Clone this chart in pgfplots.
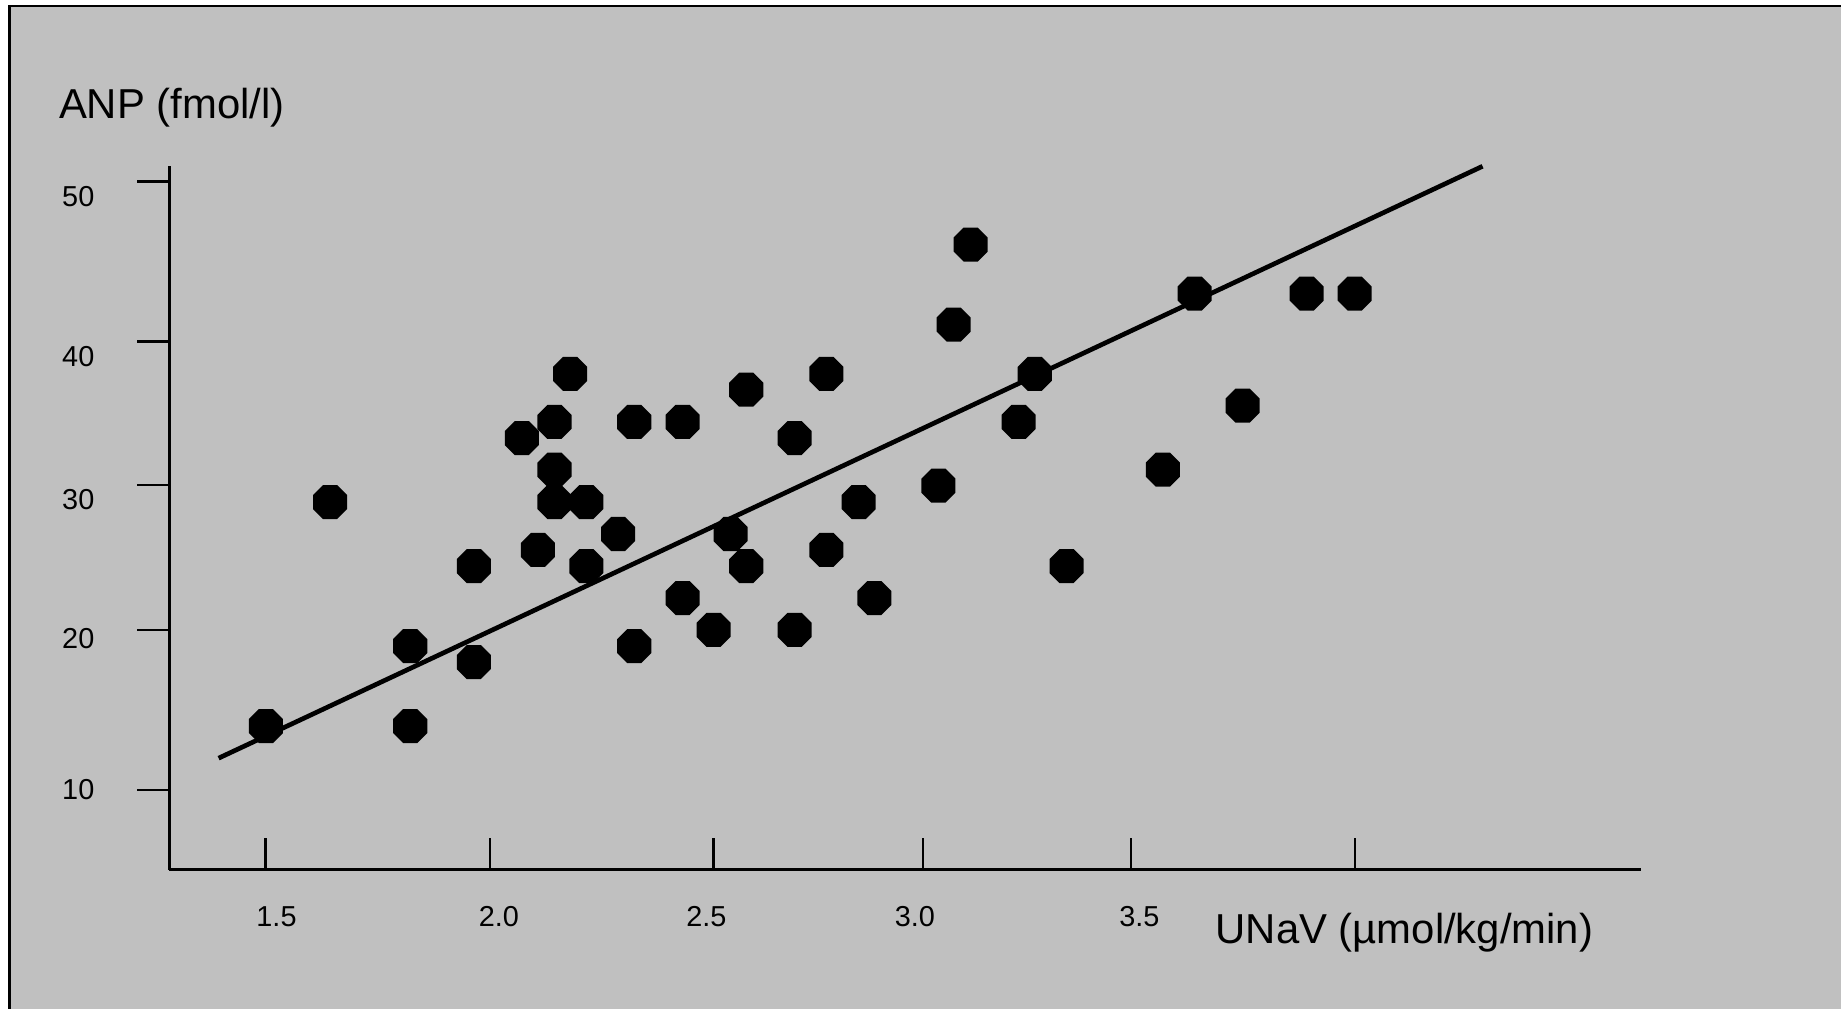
\documentclass[border=0pt]{standalone}
\usepackage{fontspec}
\setmainfont{Liberation Sans}
\usepackage{pgfplots}
\pgfplotsset{compat=1.18}
\definecolor{panel}{HTML}{C0C0C0}

% filled octagon, flat sides top/bottom/left/right
\pgfdeclareplotmark{octagon}{%
  \pgfpathmoveto{\pgfpointpolar{22.5}{\pgfplotmarksize}}%
  \pgfpathlineto{\pgfpointpolar{67.5}{\pgfplotmarksize}}%
  \pgfpathlineto{\pgfpointpolar{112.5}{\pgfplotmarksize}}%
  \pgfpathlineto{\pgfpointpolar{157.5}{\pgfplotmarksize}}%
  \pgfpathlineto{\pgfpointpolar{202.5}{\pgfplotmarksize}}%
  \pgfpathlineto{\pgfpointpolar{247.5}{\pgfplotmarksize}}%
  \pgfpathlineto{\pgfpointpolar{292.5}{\pgfplotmarksize}}%
  \pgfpathlineto{\pgfpointpolar{337.5}{\pgfplotmarksize}}%
  \pgfpathclose
  \pgfusepathqfill
}

\begin{document}
\begin{tikzpicture}[x=0.01cm, y=0.01cm]
\useasboundingbox (0,0) rectangle (1841,1009);
\fill[white] (0,0) rectangle (1841,1009);
\fill[panel] (9.7,0) rectangle (1841,1003);
\draw[line width=0.72pt] (9.7,0) -- (9.7,1003) -- (1841,1003);

\begin{axis}[
  at={(1.693cm,1.39cm)}, anchor=south west,
  x=4.3556cm, y=0.152cm,
  xmin=1.2794, xmax=4.656, ymin=4.763, ymax=51.08,
  axis x line*=bottom, axis y line*=left,
  axis line style={line width=0.85pt, black},
  xtick={1.5,2.0145,2.5279,3.0091,3.486,4.0},
  ytick={10.03,20.55,30.07,39.51,50.03},
  xticklabels={}, yticklabels={},
  xtick align=inside, ytick align=outside,
  major tick length=0.32cm,
  every tick/.style={black, line width=0.65pt},
  clip=false,
]
\addplot[only marks, mark=octagon, mark size=5.24pt, black] coordinates {
  (1.501,14.22) (1.648,28.95) (1.832,19.48) (1.832,14.22)
  (1.978,24.74) (1.978,18.43) (2.088,33.16) (2.125,25.80)
  (2.163,34.22) (2.163,31.08) (2.163,28.95) (2.199,37.38)
  (2.236,28.95) (2.236,24.74) (2.309,26.85) (2.346,34.22)
  (2.346,19.48) (2.457,34.22) (2.457,22.64) (2.528,20.55)
  (2.567,26.85) (2.603,36.34) (2.603,24.74) (2.714,33.16)
  (2.714,20.55) (2.787,37.38) (2.787,25.80) (2.861,28.95)
  (2.897,22.64) (3.044,30.03) (3.079,40.62) (3.118,45.88)
  (3.228,34.22) (3.265,37.38) (3.338,24.74) (3.559,31.08)
  (3.632,42.66) (3.742,35.29) (3.889,42.66) (3.999,42.66)
};
\addplot[no markers, black, line width=1.33pt] coordinates {
  (1.3923,12.11) (4.2925,51.03)
};
\end{axis}

% tick labels
\begin{scope}[every node/.style={inner sep=0pt, font=\fontsize{8.2}{10}\selectfont}]
\node[anchor=east] at (95,812) {50};
\node[anchor=east] at (95,652.5) {40};
\node[anchor=east] at (95,509) {30};
\node[anchor=east] at (95,370) {20};
\node[anchor=east] at (95,219.8) {10};
\node at (276.5,92.3) {1.5};
\node at (498.8,92.3) {2.0};
\node at (706.4,92.3) {2.5};
\node at (914.9,92.3) {3.0};
\node at (1139.4,92.3) {3.5};
\end{scope}

% axis titles
\node[anchor=base west, inner sep=0pt, font=\fontsize{11.9}{14}\selectfont] at (58.3,890.7) {ANP (fmol/l)};
\node[anchor=base west, inner sep=0pt, font=\fontsize{11.9}{14}\selectfont] at (1215,65.7) {UNaV (µmol/kg/min)};
\end{tikzpicture}
\end{document}
